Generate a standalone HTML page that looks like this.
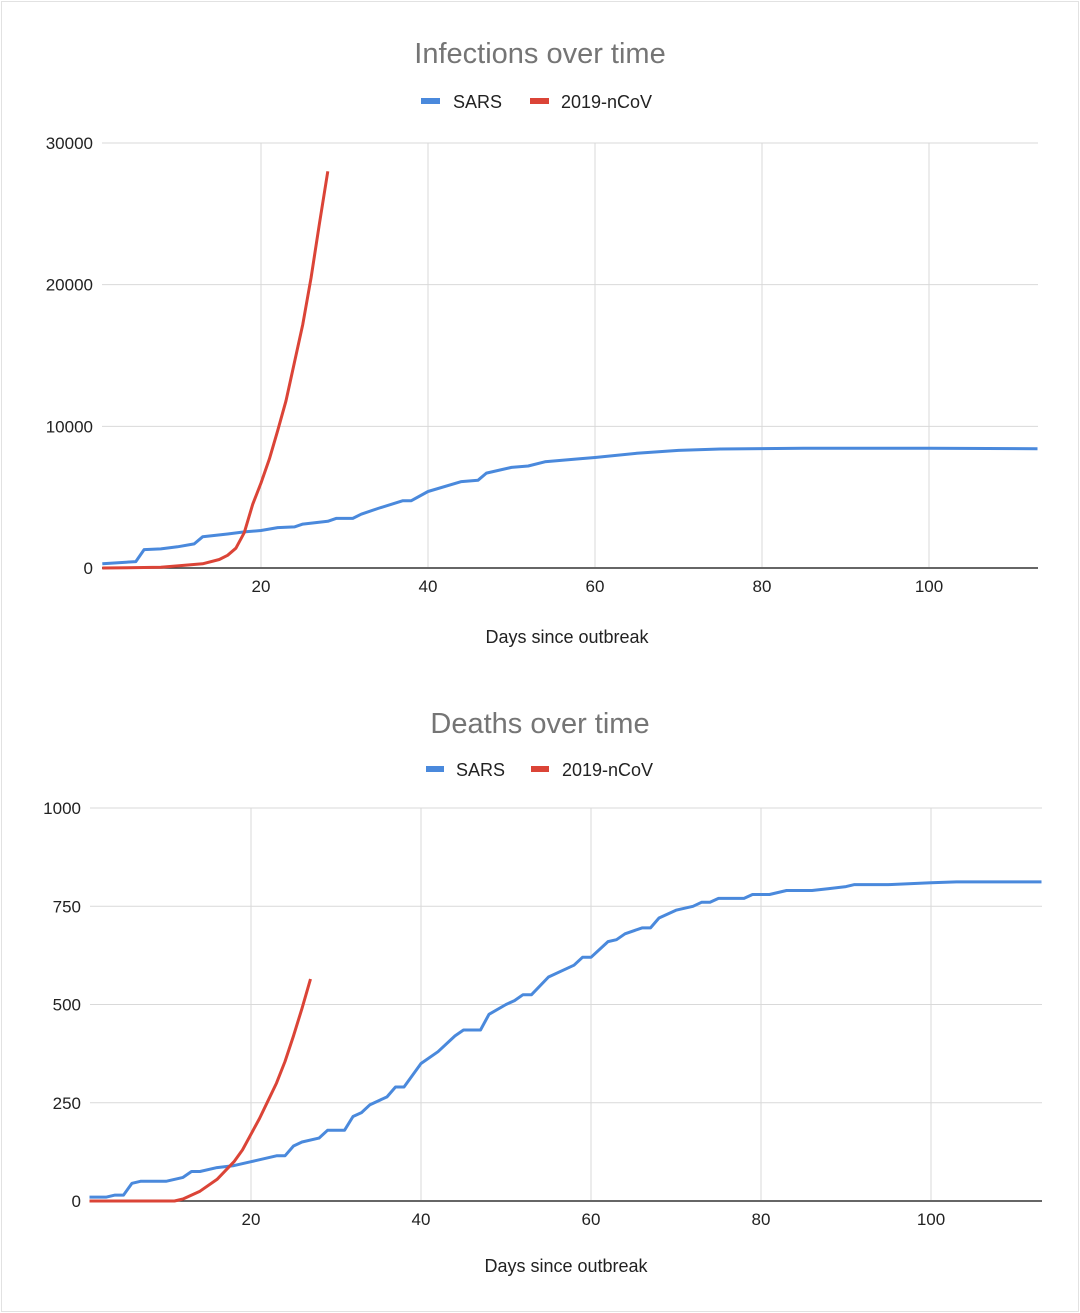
<!DOCTYPE html>
<html><head><meta charset="utf-8"><style>
body{margin:0;background:#fff;}
svg{display:block;font-family:"Liberation Sans",Arial,sans-serif;}
</style></head><body>
<svg id="s" width="1080" height="1313" viewBox="0 0 1080 1313">
<rect x="1.5" y="1.5" width="1077" height="1310" fill="#fff" stroke="#e2e2e2"/>
<text x="540" y="63" text-anchor="middle" font-size="29" fill="#757575">Infections over time</text>
<g>
<rect x="421" y="98" width="19" height="6" fill="#4a89dc"/>
<text x="453" y="108" font-size="18" fill="#222">SARS</text>
<rect x="530" y="98" width="19" height="6" fill="#db4437"/>
<text x="561" y="108" font-size="18" fill="#222">2019-nCoV</text>
</g>
<text x="567" y="643" text-anchor="middle" font-size="18" fill="#222">Days since outbreak</text>
<g id="c1"></g>
<text x="540" y="733" text-anchor="middle" font-size="29" fill="#757575">Deaths over time</text>
<g>
<rect x="426" y="766" width="18" height="6" fill="#4a89dc"/>
<text x="456" y="776" font-size="18" fill="#222">SARS</text>
<rect x="531" y="766" width="18" height="6" fill="#db4437"/>
<text x="562" y="776" font-size="18" fill="#222">2019-nCoV</text>
</g>
<text x="566" y="1272" text-anchor="middle" font-size="18" fill="#222">Days since outbreak</text>
<g id="c2"></g>
</svg>
<script>
const infSarsDays=[1,5,6,8,10,12,13,16,18,20,22,24,25,28,29,31,32,34,37,38,40,44,46,47,50,52,54,58,60,65,70,75,85,100,113];
const infSarsVals=[300,450,1300,1350,1500,1700,2200,2400,2550,2650,2850,2900,3100,3300,3500,3500,3800,4200,4750,4750,5400,6100,6200,6700,7100,7200,7500,7700,7800,8100,8300,8400,8450,8450,8420];
const infNcovDays=[1,8,10,13,15,16,17,18,19,20,21,22,23,24,25,26,27,28];
const infNcovVals=[0,50,150,300,600,900,1400,2500,4500,6000,7700,9700,11800,14500,17200,20500,24300,28000];
const infYTicks=[0,10000,20000,30000];
const dthSarsDays=[1,3,4,5,6,7,10,12,13,14,16,18,20,23,24,25,26,28,29,31,32,33,34,36,37,38,40,42,44,45,47,48,50,51,52,53,55,58,59,60,62,63,64,66,67,68,70,72,73,74,75,78,79,81,83,86,88,90,91,95,100,103,113];
const dthSarsVals=[10,10,15,15,45,50,50,60,75,75,85,90,100,115,115,140,150,160,180,180,215,225,245,265,290,290,350,380,420,435,435,475,500,510,525,525,570,600,620,620,660,665,680,695,695,720,740,750,760,760,770,770,780,780,790,790,795,800,805,805,810,812,812];
const dthNcovDays=[1,11,12,14,16,18,19,20,21,22,23,24,25,26,27];
const dthNcovVals=[0,0,5,25,55,100,130,170,210,255,300,355,420,490,565];
const dthYTicks=[0,250,500,750,1000];
const xTicks=[20,40,60,80,100];
const NS='http://www.w3.org/2000/svg';
function mk(p,tag,a){const e=document.createElementNS(NS,tag);for(const k in a)e.setAttribute(k,a[k]);p.appendChild(e);return e;}
function draw(g,cfg){
  const xs=d=>cfg.x0+d*cfg.dx;
  const ys=v=>cfg.y0-(v/cfg.ymax)*(cfg.y0-cfg.ytop);
  cfg.yt.forEach(t=>{
    const l=mk(g,'line',{x1:cfg.left,x2:cfg.right,y1:ys(t),y2:ys(t),stroke:t===0?'#333':'#d9d9d9','stroke-width':t===0?1.5:1});
    
    
    const tx=mk(g,'text',{x:cfg.left-9,y:ys(t)+6,'text-anchor':'end','font-size':17,fill:'#222'});
    tx.textContent=t;
    
    
  });
  xTicks.forEach(t=>{
    const l=mk(g,'line',{x1:xs(t),x2:xs(t),y1:cfg.ytop,y2:cfg.y0-1,stroke:'#d9d9d9','stroke-width':1});
    
    
    const tx=mk(g,'text',{x:xs(t),y:cfg.y0+24,'text-anchor':'middle','font-size':17,fill:'#222'});
    tx.textContent=t;
    
    
  });
  [[cfg.sd,cfg.sv,'#4a89dc','sars-line'],[cfg.nd,cfg.nv,'#db4437','ncov-line']].forEach(([d,v,c,n])=>{
    const pts=d.map((x,i)=>xs(x).toFixed(1)+','+ys(v[i]).toFixed(1)).join(' ');
    const pl=mk(g,'polyline',{points:pts,fill:'none',stroke:c,'stroke-width':3,'stroke-linejoin':'round'});
    
    
  });
}
draw(document.getElementById('c1'),{x0:94,dx:8.35,left:102,right:1038,y0:568,ytop:143,ymax:30000,yt:infYTicks,sd:infSarsDays,sv:infSarsVals,nd:infNcovDays,nv:infNcovVals});
draw(document.getElementById('c2'),{x0:81,dx:8.5,left:90,right:1042,y0:1201,ytop:808,ymax:1000,yt:dthYTicks,sd:dthSarsDays,sv:dthSarsVals,nd:dthNcovDays,nv:dthNcovVals});
</script>
</body></html>
